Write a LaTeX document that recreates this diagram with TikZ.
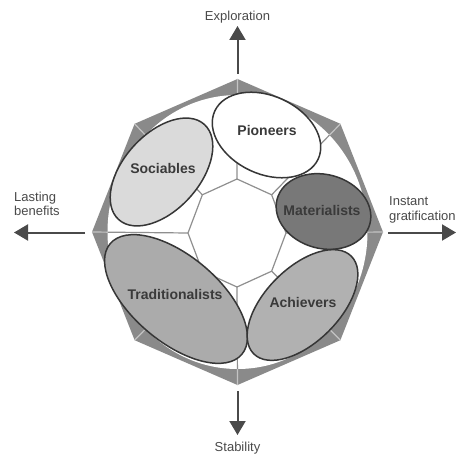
\documentclass[tikz,border=0pt]{standalone}
\usepackage{fontspec}
\setmainfont{Liberation Sans}
\usetikzlibrary{arrows.meta}
\definecolor{octgray}{HTML}{8A8A8A}
\definecolor{spoke}{HTML}{8F8F8F}
\definecolor{spokelight}{HTML}{C4C4C4}
\definecolor{rimline}{HTML}{363636}
\definecolor{txt}{HTML}{3A3A3A}
\definecolor{axis}{HTML}{4A4A4A}
\definecolor{socfill}{HTML}{DADADA}
\definecolor{matfill}{HTML}{787878}
\definecolor{trafill}{HTML}{ABABAB}
\definecolor{achfill}{HTML}{B1B1B1}
\begin{document}
\begin{tikzpicture}[x=1pt,y=1pt,
  seg/.style={fill=#1, draw=rimline, line width=1.5pt},
  lbl/.style={font=\fontsize{14}{16}\selectfont\bfseries, text=txt, inner sep=0pt},
  axlbl/.style={font=\fontsize{13}{14.5}\selectfont, text=axis, inner sep=0pt},
  axarrow/.style={draw=axis, line width=2pt, -{Triangle[width=16pt,length=14pt]}},
  spokeline/.style={draw=spoke, line width=1.2pt},
  spokeouter/.style={draw=spokelight, line width=1.2pt}]
\useasboundingbox (0,0) rectangle (457,-457);
\fill[white] (0,0) rectangle (457,-457);
\foreach \k in {0,...,7} {
  \coordinate (o\k) at ({237.5+145.5*cos(45*\k)},{-232+153*sin(45*\k)});
  \coordinate (i\k) at ({237+49*cos(45*\k)},{-233+54*sin(45*\k)});
}
% outer octagon and white disc
\fill[octgray] (o0)--(o1)--(o2)--(o3)--(o4)--(o5)--(o6)--(o7)--cycle;
\foreach \k in {0,...,7} \draw[spokeouter] (i\k) -- (o\k);
\fill[white] (237.5,-232) ellipse [x radius=130, y radius=137];
% spokes and inner octagon
\begin{scope}
  \clip (237.5,-232) ellipse [x radius=130, y radius=137];
  \foreach \k in {0,...,7} \draw[spokeline] (i\k) -- (o\k);
\end{scope}
\draw[spokeline, line join=round] (i0)--(i1)--(i2)--(i3)--(i4)--(i5)--(i6)--(i7)--cycle;
% segments
\draw[seg=white, rotate around={-25:(266.5,-135)}] (266.5,-135) ellipse [x radius=57, y radius=39];
\draw[seg=socfill, rotate around={48:(161.5,-172)}] (161.5,-172) ellipse [x radius=64, y radius=38];
\draw[seg=matfill, rotate around={-15:(323.5,-211.5)}] (323.5,-211.5) ellipse [x radius=48, y radius=37];
\draw[seg=trafill, rotate around={-40:(176,-299)}] (176,-299) ellipse [x radius=86, y radius=43];
\draw[seg=achfill, rotate around={45:(302.5,-305)}] (302.5,-305) ellipse [x radius=69, y radius=37];
% labels
\node[lbl] (pioneers) at (267,-130) {Pioneers};
\node[lbl] (sociables) at (163,-168) {Sociables};
\node[lbl] (materialists) at (322,-210) {Materialists};
\node[lbl] (traditionalists) at (175,-294) {Traditionalists};
\node[lbl] (achievers) at (303,-302) {Achievers};
% axes
\node[axlbl] (explore) at (237.5,-17) {Exploration};
\node[axlbl] (stability) at (237.5,-448) {Stability};
\node[axlbl, align=left, anchor=north west] (lasting) at (14,-191.5) {Lasting\\benefits};
\node[axlbl, align=left, anchor=north west] (instant) at (389,-196.5) {Instant\\gratification};
\coordinate (upS) at (237.5,-74); \coordinate (upE) at (237.5,-26);
\coordinate (dnS) at (237.5,-391); \coordinate (dnE) at (237.5,-435);
\coordinate (ltS) at (85,-232.5); \coordinate (ltE) at (14,-232.5);
\coordinate (rtS) at (388,-232.5); \coordinate (rtE) at (456,-232.5);
\draw[axarrow] (upS) -- (upE);
\draw[axarrow] (dnS) -- (dnE);
\draw[axarrow] (ltS) -- (ltE);
\draw[axarrow] (rtS) -- (rtE);
\end{tikzpicture}
\end{document}
